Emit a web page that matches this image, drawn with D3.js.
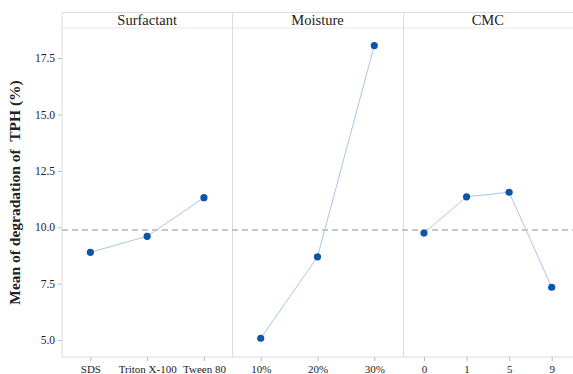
<!DOCTYPE html>
<html>
<head>
<meta charset="utf-8">
<script src="https://cdn.jsdelivr.net/npm/d3@7"></script>
<style>
  html, body { margin: 0; padding: 0; background: #fff; }
  svg { display: block; }
  text { font-family: "Liberation Serif", "Times New Roman", serif; fill: #222; }
</style>
</head>
<body>
<svg id="chart" width="573" height="374"></svg>
<script>
// Main-effects means of TPH degradation per factor level
const factors = ["Surfactant", "Moisture", "CMC"];
const surfactantLevels = ["SDS", "Triton X-100", "Tween 80"];
const surfactantMeans = [8.89, 9.60, 11.31];
const moistureLevels = ["10%", "20%", "30%"];
const moistureMeans = [5.08, 8.69, 18.05];
const cmcLevels = ["0", "1", "5", "9"];
const cmcMeans = [9.74, 11.35, 11.55, 7.34];
const grandMean = 9.88;
const yTicks = [5.0, 7.5, 10.0, 12.5, 15.0, 17.5];

const panels = [
  { name: factors[0], levels: surfactantLevels, means: surfactantMeans },
  { name: factors[1], levels: moistureLevels, means: moistureMeans },
  { name: factors[2], levels: cmcLevels, means: cmcMeans }
];

const frameLeft = 62, frameRight = 573, frameTop = 12.5, stripH = 15.5, frameBottom = 357;
const plotTop = frameTop + stripH;
const frameColor = "#dcdcdc";

const svg = d3.select("#chart");

const y = d3.scaleLinear().domain([4.25, 18.83]).range([frameBottom, plotTop]);

// Panel columns share the width equally
const panelX = d3.scaleBand().domain(factors).range([frameLeft, frameRight]).paddingInner(0).paddingOuter(0);

// Y axis
const yAxis = d3.axisLeft(y).tickValues(yTicks).tickFormat(d3.format(".1f")).tickSize(4).tickPadding(3);
const gy = svg.append("g").attr("transform", `translate(${frameLeft},0)`).call(yAxis);
gy.select(".domain").remove();
gy.selectAll(".tick line").attr("stroke", "#bbb");
gy.selectAll(".tick text").attr("font-size", 11.5).attr("fill", "#333")
  .style("font-family", "'Liberation Serif', serif");

// Y title
svg.append("text")
  .attr("transform", `translate(20,${(plotTop + frameBottom) / 2}) rotate(-90)`)
  .attr("text-anchor", "middle")
  .attr("font-size", 15.5)
  .attr("font-weight", "bold")
  .style("white-space", "pre")
  .attr("fill", "#111")
  .text("Mean of degradation of  TPH (%)");

// Frame: top line, strip bottom line, left line, bottom line, panel dividers
svg.append("line").attr("x1", frameLeft).attr("x2", frameRight).attr("y1", frameTop).attr("y2", frameTop)
  .attr("stroke", frameColor);
svg.append("line").attr("x1", frameLeft).attr("x2", frameRight).attr("y1", plotTop).attr("y2", plotTop)
  .attr("stroke", "#e6e6e6");
svg.append("line").attr("x1", frameLeft).attr("x2", frameRight).attr("y1", frameBottom).attr("y2", frameBottom)
  .attr("stroke", frameColor);
svg.append("line").attr("x1", frameLeft).attr("x2", frameLeft).attr("y1", frameTop).attr("y2", frameBottom)
  .attr("stroke", frameColor);
factors.slice(1).forEach(f => {
  const xx = Math.round(panelX(f)) + 0.5;
  svg.append("line").attr("x1", xx).attr("x2", xx).attr("y1", frameTop).attr("y2", frameBottom)
    .attr("stroke", frameColor);
});

// Grand mean reference line
svg.append("line")
  .attr("x1", frameLeft).attr("x2", frameRight)
  .attr("y1", y(grandMean)).attr("y2", y(grandMean))
  .attr("stroke", "#b4b4b4")
  .attr("stroke-width", 1.6)
  .attr("stroke-dasharray", "6,4");

panels.forEach(p => {
  const x0 = panelX(p.name), x1 = x0 + panelX.bandwidth();
  const x = d3.scalePoint().domain(p.levels).range([x0, x1]).padding(0.5);

  // Strip label
  svg.append("text")
    .attr("x", (x0 + x1) / 2).attr("y", frameTop + 12.5)
    .attr("text-anchor", "middle")
    .attr("font-size", 14.5)
    .attr("fill", "#222")
    .text(p.name);

  // X axis
  const xAxis = d3.axisBottom(x).tickSize(4).tickPadding(4);
  const gx = svg.append("g").attr("transform", `translate(0,${frameBottom})`).call(xAxis);
  gx.select(".domain").remove();
  gx.selectAll(".tick line").attr("stroke", "#bbb");
  gx.selectAll(".tick text").attr("font-size", 11).attr("fill", "#333")
    .style("font-family", "'Liberation Serif', serif");

  const pts = p.levels.map((l, i) => [x(l), y(p.means[i])]);

  svg.append("path")
    .attr("d", d3.line()(pts))
    .attr("fill", "none")
    .attr("stroke", "#a9c7e6")
    .attr("stroke-width", 1);

  svg.append("g").selectAll("circle")
    .data(p.levels)
    .join("circle")
    .attr("cx", d => x(d))
    .attr("cy", (d, i) => y(p.means[i]))
    .attr("r", 3.6)
    .attr("fill", "#0b56a8");
});
</script>
</body>
</html>
